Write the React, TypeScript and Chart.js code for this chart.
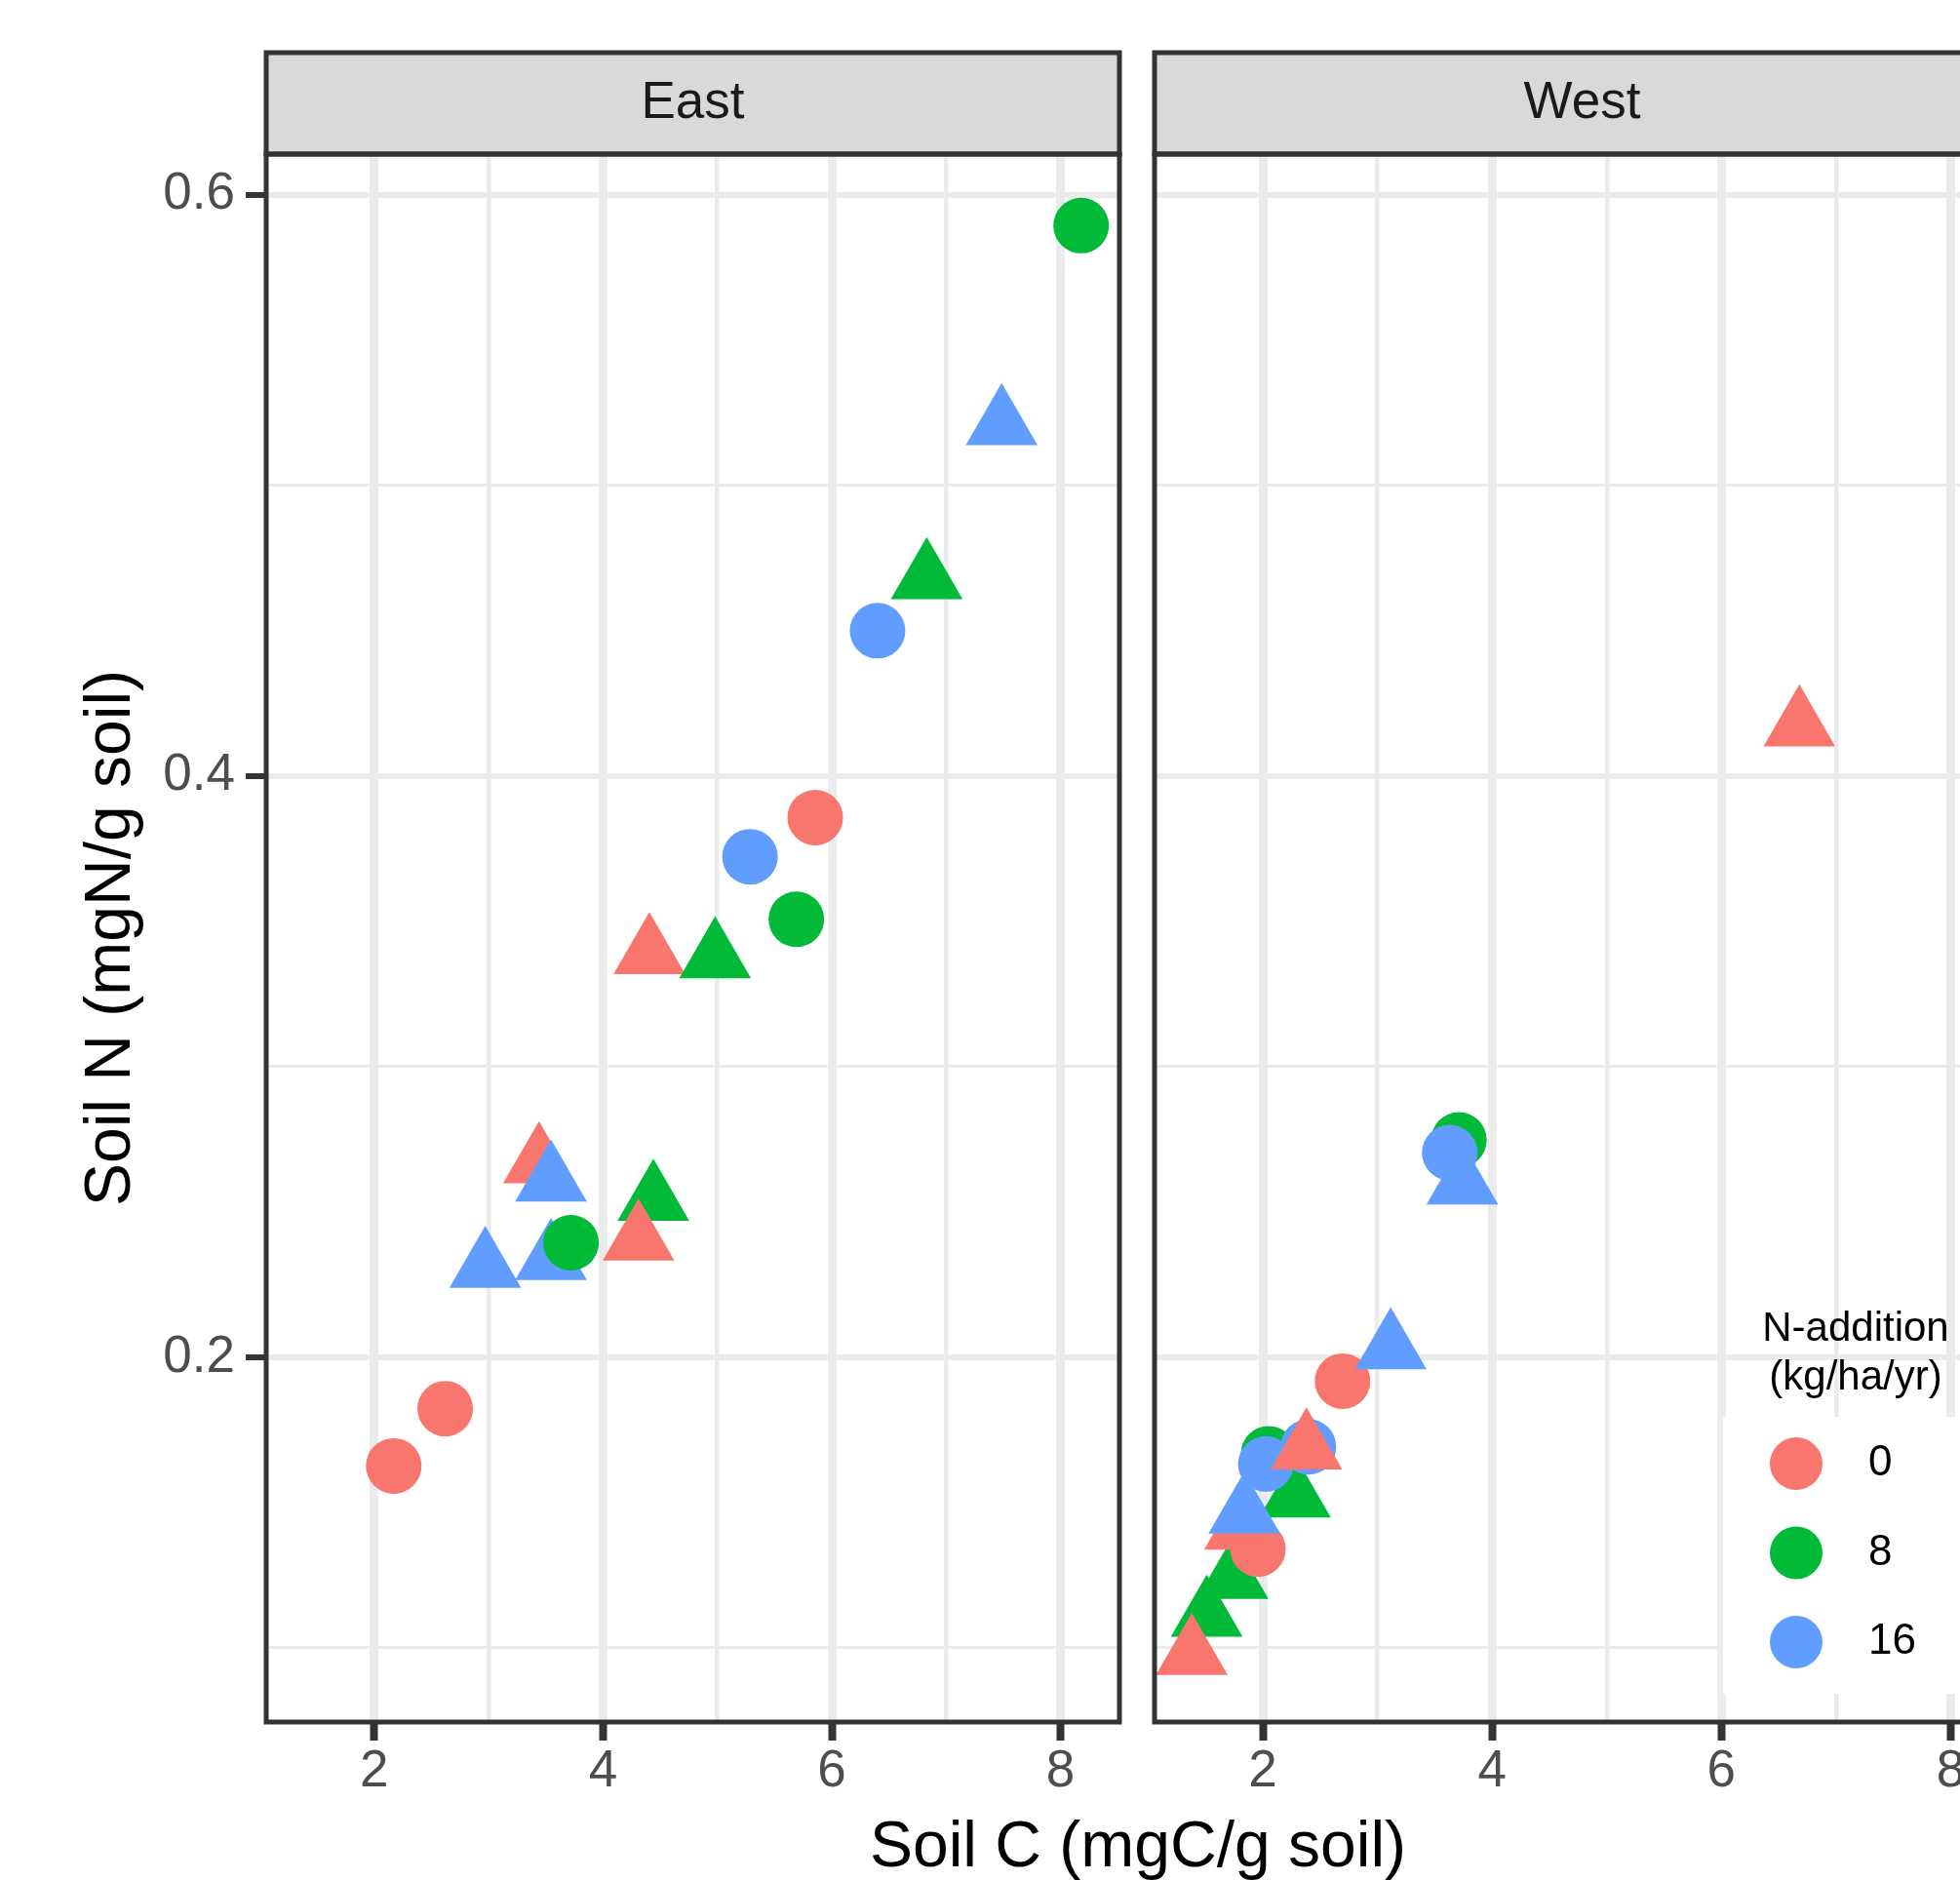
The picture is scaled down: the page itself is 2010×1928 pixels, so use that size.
import React, { useEffect, useRef } from 'react';
import { Chart, registerables } from 'chart.js';

Chart.register(...registerables);

// ---------- data ----------
const PANELS = ['East', 'West'];
const LEVELS = ['0', '8', '16'];
const LEVEL_COLORS = ['#F8766D', '#00BA38', '#619CFF'];
const LEGEND_TITLE = ['N-addition', '(kg/ha/yr)'];
const X_TITLE = 'Soil C (mgC/g soil)';
const Y_TITLE = 'Soil N (mgN/g soil)';
const X_LABELLED_TICKS = [2, 4, 6, 8];
const Y_LABELLED_TICKS = [0.2, 0.4, 0.6];
const X_LIMITS = [1.055, 8.515];
const Y_LIMITS = [0.0745, 0.614];

// East panel rows (in drawing order)
const eastSoilC = [2.17, 2.62, 5.855, 5.285, 5.69, 6.4, 8.18, 7.485, 6.83, 4.405, 4.98, 3.44, 3.545, 4.44, 4.31, 2.97, 3.545, 3.72];
const eastSoilN = [0.1626, 0.1823, 0.3857, 0.3722, 0.3507, 0.45, 0.5894, 0.521, 0.468, 0.339, 0.3375, 0.267, 0.2607, 0.2541, 0.2404, 0.231, 0.2337, 0.2394];
const eastLevel = ['0', '0', '0', '16', '8', '16', '8', '16', '8', '0', '8', '0', '16', '8', '0', '16', '16', '8'];
const eastShape = ['circle', 'circle', 'circle', 'circle', 'circle', 'circle', 'circle', 'triangle', 'triangle', 'triangle', 'triangle', 'triangle', 'triangle', 'triangle', 'triangle', 'triangle', 'triangle', 'circle'];

// West panel rows (in drawing order)
const westSoilC = [1.51, 1.38, 1.736, 1.8, 1.957, 2.28, 2.05, 2.026, 1.838, 2.397, 2.38, 2.695, 3.115, 3.71, 3.63, 3.74, 6.68];
const westSoilN = [0.111, 0.0978, 0.124, 0.1409, 0.134, 0.152, 0.1668, 0.1633, 0.1465, 0.1692, 0.1685, 0.1918, 0.203, 0.2748, 0.2704, 0.2597, 0.4173];
const westLevel = ['8', '0', '8', '0', '0', '8', '8', '16', '16', '16', '0', '0', '16', '8', '16', '16', '0'];
const westShape = ['triangle', 'triangle', 'triangle', 'triangle', 'circle', 'triangle', 'circle', 'circle', 'triangle', 'circle', 'triangle', 'circle', 'triangle', 'circle', 'circle', 'triangle', 'triangle'];

// ---------- style / layout ----------
const FONT = '"Liberation Sans", Arial, Helvetica, sans-serif';
const PAGE_W = 2010;
const PAGE_H = 1928;
const STRIP_TOP = 54;
const AREA_TOP = 158;
const AREA_BOTTOM = 1766;
const EAST_LEFT = 273;
const EAST_RIGHT = 1148;
const WEST_LEFT = 1184;
const WEST_RIGHT = 2061;
const WEST_CANVAS_LEFT = 1164;
const WEST_CANVAS_W = 927;
const GRID = '#EBEBEB';
const DARK = '#333333';
const CIRCLE_R = 28.5;
const TRIANGLE_R = 42.5;

const colorOf = (lvl: string) => LEVEL_COLORS[LEVELS.indexOf(lvl)];

function buildDataset(c: number[], n: number[], lvl: string[], shape: string[]) {
  return {
    label: 'points',
    data: c.map((x, i) => ({ x, y: n[i] })),
    pointBackgroundColor: lvl.map(colorOf),
    pointStyle: shape,
    pointRadius: shape.map((s) => (s === 'triangle' ? TRIANGLE_R : CIRCLE_R)),
    pointBorderWidth: 0,
    pointHoverRadius: shape.map((s) => (s === 'triangle' ? TRIANGLE_R : CIRCLE_R)),
    showLine: false,
  };
}

const isMajorX = (v: number) => X_LABELLED_TICKS.some((t) => Math.abs(t - v) < 1e-6);
const isMajorY = (v: number) => Y_LABELLED_TICKS.some((t) => Math.abs(t - v) < 1e-6);

function panelPlugin(label: string) {
  return {
    id: 'panelDecor' + label,
    afterDatasetsDraw(chart: any) {
      const { ctx, chartArea: a } = chart;
      ctx.save();
      ctx.fillStyle = '#D9D9D9';
      ctx.fillRect(a.left, STRIP_TOP, a.right - a.left, a.top - STRIP_TOP);
      ctx.lineWidth = 5;
      ctx.strokeStyle = DARK;
      ctx.strokeRect(a.left, STRIP_TOP, a.right - a.left, a.top - STRIP_TOP);
      ctx.strokeRect(a.left, a.top, a.right - a.left, a.bottom - a.top);
      ctx.fillStyle = '#1A1A1A';
      ctx.font = `53px ${FONT}`;
      ctx.textAlign = 'center';
      ctx.textBaseline = 'middle';
      ctx.fillText(label, (a.left + a.right) / 2, (STRIP_TOP + a.top) / 2);
      ctx.restore();
    },
  };
}

const xTitlePlugin = {
  id: 'sharedXTitle',
  afterDraw(chart: any) {
    const { ctx } = chart;
    ctx.save();
    ctx.fillStyle = '#000000';
    ctx.font = `66px ${FONT}`;
    ctx.textAlign = 'center';
    ctx.textBaseline = 'middle';
    ctx.fillText(X_TITLE, (EAST_LEFT + WEST_RIGHT) / 2, 1896);
    ctx.restore();
  },
};

const legendPlugin = {
  id: 'nLegend',
  afterDraw(chart: any) {
    const { ctx } = chart;
    const ox = WEST_CANVAS_LEFT;
    ctx.save();
    ctx.fillStyle = '#FFFFFF';
    ctx.fillRect(1767 - ox, 1453, 300, 1737 - 1453);
    ctx.fillStyle = '#000000';
    ctx.font = `42px ${FONT}`;
    ctx.textAlign = 'center';
    ctx.textBaseline = 'alphabetic';
    LEGEND_TITLE.forEach((t, i) => ctx.fillText(t, 1903 - ox, 1375 + i * 50));
    LEVELS.forEach((lvl, i) => {
      const cy = 1501 + i * 91.5;
      ctx.beginPath();
      ctx.fillStyle = LEVEL_COLORS[i];
      ctx.arc(1842 - ox, cy, 27, 0, Math.PI * 2);
      ctx.fill();
      ctx.fillStyle = '#000000';
      ctx.font = `44px ${FONT}`;
      ctx.textAlign = 'left';
      ctx.textBaseline = 'middle';
      ctx.fillText(lvl, 1916 - ox, cy);
    });
    ctx.restore();
  },
};

function xScale() {
  return {
    type: 'linear',
    position: 'bottom',
    min: X_LIMITS[0],
    max: X_LIMITS[1],
    afterFit: (s: any) => {
      s.height = PAGE_H - AREA_BOTTOM;
      s.paddingLeft = 0;
      s.paddingRight = 0;
      s.paddingTop = 0;
      s.paddingBottom = 0;
    },
    border: { display: false },
    grid: {
      color: GRID,
      lineWidth: (c: any) => (c.tick && isMajorX(c.tick.value) ? 9 : 4.5),
      drawTicks: true,
      tickLength: 19,
      tickWidth: 8,
      tickColor: (c: any) => (c.tick && isMajorX(c.tick.value) ? DARK : 'rgba(0,0,0,0)'),
    },
    ticks: {
      stepSize: 1,
      includeBounds: false,
      autoSkip: false,
      maxRotation: 0,
      padding: 1,
      color: '#4D4D4D',
      font: { family: FONT, size: 53 },
      callback: (v: number) => (isMajorX(v) ? String(Math.round(v)) : ''),
    },
  };
}

function yScale(showLabels: boolean) {
  return {
    type: 'linear',
    position: 'left',
    min: Y_LIMITS[0],
    max: Y_LIMITS[1],
    afterFit: (s: any) => {
      s.width = showLabels ? EAST_LEFT : WEST_LEFT - WEST_CANVAS_LEFT;
      s.paddingLeft = 0;
      s.paddingRight = 0;
      s.paddingTop = 0;
      s.paddingBottom = 0;
    },
    border: { display: false },
    grid: {
      color: GRID,
      lineWidth: (c: any) => (c.tick && isMajorY(c.tick.value) ? 6 : 3),
      drawTicks: showLabels,
      tickLength: 21,
      tickWidth: 6,
      tickColor: (c: any) => (c.tick && isMajorY(c.tick.value) ? DARK : 'rgba(0,0,0,0)'),
    },
    ticks: {
      display: showLabels,
      stepSize: 0.1,
      includeBounds: false,
      autoSkip: false,
      padding: 11,
      color: '#4D4D4D',
      font: { family: FONT, size: 53 },
      callback: (v: number) => (isMajorY(v) ? v.toFixed(1) : ''),
    },
    title: {
      display: showLabels,
      text: Y_TITLE,
      color: '#000000',
      font: { family: FONT, size: 66 },
      padding: { top: 75, bottom: 0 },
    },
  };
}

function baseOptions(pad: any, showY: boolean) {
  return {
    responsive: false,
    maintainAspectRatio: false,
    animation: false,
    devicePixelRatio: 1,
    events: [],
    layout: { padding: pad, autoPadding: false },
    plugins: { legend: { display: false }, tooltip: { enabled: false }, title: { display: false } },
    scales: { x: xScale(), y: yScale(showY) },
  };
}

export default function App() {
  const eastRef = useRef<HTMLCanvasElement | null>(null);
  const westRef = useRef<HTMLCanvasElement | null>(null);

  useEffect(() => {
    if (!eastRef.current || !westRef.current) return;
    const east = new Chart(eastRef.current, {
      type: 'scatter',
      data: { datasets: [buildDataset(eastSoilC, eastSoilN, eastLevel, eastShape) as any] },
      options: baseOptions({ left: 0, top: AREA_TOP, right: PAGE_W - EAST_RIGHT, bottom: 0 }, true) as any,
      plugins: [panelPlugin(PANELS[0]), xTitlePlugin],
    });
    const west = new Chart(westRef.current, {
      type: 'scatter',
      data: { datasets: [buildDataset(westSoilC, westSoilN, westLevel, westShape) as any] },
      options: baseOptions(
        { left: 0, top: AREA_TOP, right: WEST_CANVAS_W - (WEST_RIGHT - WEST_CANVAS_LEFT), bottom: 0 },
        false
      ) as any,
      plugins: [panelPlugin(PANELS[1]), legendPlugin],
    });
    return () => {
      east.destroy();
      west.destroy();
    };
  }, []);

  return (
    <div
      style={{
        position: 'absolute',
        left: 0,
        top: 0,
        width: PAGE_W,
        height: PAGE_H,
        overflow: 'hidden',
        background: '#ffffff',
      }}
    >
      <canvas
        ref={eastRef}
        width={PAGE_W}
        height={PAGE_H}
        style={{ position: 'absolute', left: 0, top: 0, width: PAGE_W, height: PAGE_H }}
      />
      <canvas
        ref={westRef}
        width={WEST_CANVAS_W}
        height={PAGE_H}
        style={{ position: 'absolute', left: WEST_CANVAS_LEFT, top: 0, width: WEST_CANVAS_W, height: PAGE_H }}
      />
    </div>
  );
}
